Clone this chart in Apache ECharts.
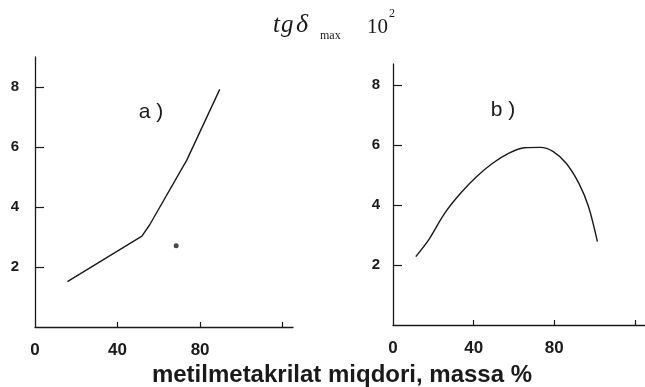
<!DOCTYPE html>
<html><head><meta charset="utf-8">
<script src="https://cdn.jsdelivr.net/npm/echarts@6/dist/echarts.min.js"></script>
<style>html,body{margin:0;padding:0;background:#fff}#c{width:645px;height:387px}</style>
</head><body><div id="c"></div>
<script>
// Panel a) polyline
const aX = [15.7, 51.8, 55.5, 73.6, 89.5];
const aY = [1.51, 3.03, 3.4, 5.57, 7.92];
// Panel a) isolated point
const dotX = [68.4];
const dotY = [2.71];
// Panel b) curve
const bX = [11.3, 17.6, 25.6, 33.5, 41.4, 49.4, 57.3, 65.2, 73.2, 79.5, 85.9, 92.2, 97.0, 101.4];
const bY = [2.28, 2.83, 3.72, 4.39, 4.94, 5.39, 5.72, 5.91, 5.92, 5.78, 5.39, 4.72, 3.94, 2.78];
// Ticks
const xTicks = [40, 80, 120];
const xTickLabels = [0, 40, 80];
const yTicks = [2, 4, 6, 8];
const panelLabels = ['a )', 'b )'];
const xName = 'metilmetakrilat miqdori, massa %';

const ink = '#1a1a1a';
const zip = (xs, ys) => xs.map((x, i) => [x, ys[i]]);

function xAxis(gi) {
  return {
    gridIndex: gi, type: 'value', min: 0, max: 125,
    axisLine: { show: true, lineStyle: { color: ink, width: 1.3 } },
    axisTick: { show: true, inside: true, length: 5, customValues: xTicks, lineStyle: { color: ink, width: 1.2 } },
    axisLabel: { customValues: xTickLabels, margin: 15, color: ink, fontFamily: 'Liberation Sans', fontWeight: 'bold', fontSize: 17 },
    splitLine: { show: false }
  };
}
function yAxis(gi, max, margin) {
  return {
    gridIndex: gi, type: 'value', min: 0, max: max,
    axisLine: { show: true, lineStyle: { color: ink, width: 1.3 } },
    axisTick: { show: true, inside: true, length: 9, customValues: yTicks, lineStyle: { color: ink, width: 1.2 } },
    axisLabel: { customValues: yTicks, margin: margin, color: ink, fontFamily: 'Liberation Sans', fontWeight: 'bold', fontSize: 15 },
    splitLine: { show: false }
  };
}
function txt(text, x, y, font, align) {
  return { type: 'text', x: x, y: y, style: { text: text, font: font, fill: ink, align: align || 'left', verticalAlign: 'middle' } };
}

const chart = echarts.init(document.getElementById('c'), null, { renderer: 'canvas' });
chart.setOption({
  backgroundColor: '#fff',
  animation: false,
  grid: [
    { left: 35, top: 57, width: 258, height: 270 },
    { left: 393, top: 64, width: 262.5, height: 261 }
  ],
  xAxis: [xAxis(0), xAxis(1)],
  yAxis: [yAxis(0, 9, 16), yAxis(1, 8.7, 13)],
  graphic: [
    txt('t', 273, 25, 'italic 25px "Liberation Serif"'),
    txt('g', 281, 25, 'italic 25px "Liberation Serif"'),
    txt('δ', 296, 25, 'italic 26px "Liberation Serif"'),
    txt('max', 320, 36, '12px "Liberation Serif"'),
    txt('10', 367, 27, '21px "Liberation Serif"'),
    txt('2', 389, 14, '12px "Liberation Serif"'),
    txt(panelLabels[0], 151, 112, '21px "Liberation Sans"', 'center'),
    txt(panelLabels[1], 503, 110, '21px "Liberation Sans"', 'center'),
    txt(xName, 342, 375, 'bold 24px "Liberation Sans"', 'center')
  ],
  series: [
    { type: 'line', xAxisIndex: 0, yAxisIndex: 0, data: zip(aX, aY), showSymbol: false, smooth: false,
      lineStyle: { color: ink, width: 1.4 } },
    { type: 'scatter', xAxisIndex: 0, yAxisIndex: 0, data: zip(dotX, dotY), symbolSize: 5,
      itemStyle: { color: ink } },
    { type: 'line', xAxisIndex: 1, yAxisIndex: 1, data: zip(bX, bY), showSymbol: false, smooth: 0.3,
      lineStyle: { color: ink, width: 1.4 } }
  ]
});
</script></body></html>
